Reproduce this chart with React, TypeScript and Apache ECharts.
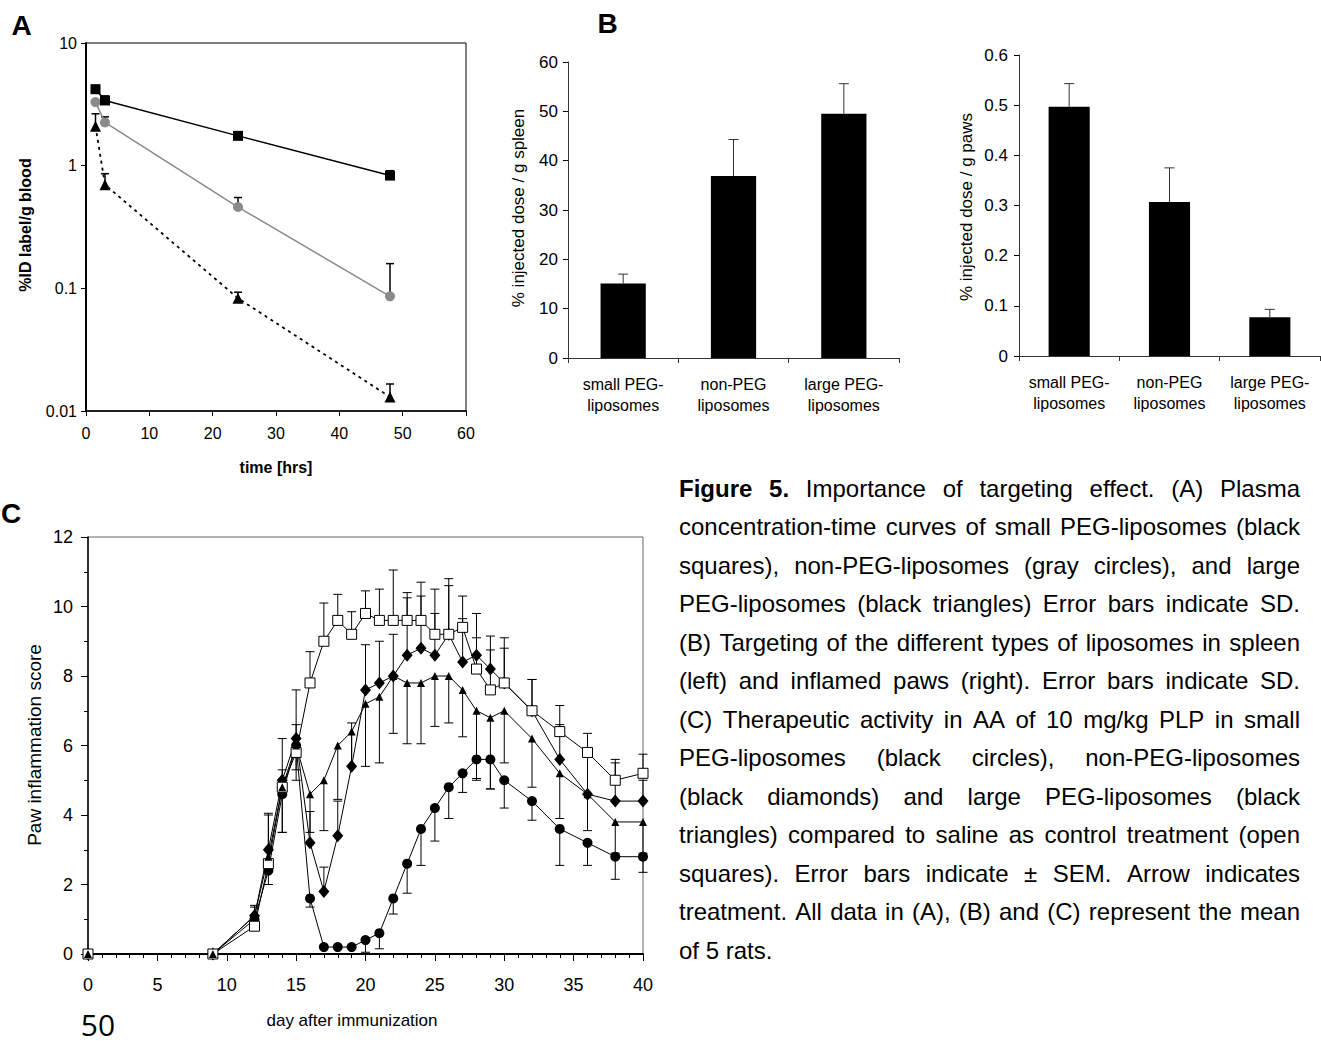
import React, { useEffect, useRef } from 'react';
import * as echarts from 'echarts';

const FONT = 'Liberation Sans';

// ---------- Panel A: plasma concentration (log scale) ----------
const A_TIMES = [1.5, 3, 24, 48];
const A_SMALL = [4.2, 3.4, 1.75, 0.83];
const A_SMALL_ERR = [0.3, 0.3, 0.11, 0.08];
const A_NONPEG = [3.3, 2.25, 0.46, 0.086];
const A_NONPEG_ERR = [0.1, 0.25, 0.09, 0.073];
const A_LARGE = [2.1, 0.7, 0.083, 0.013];
const A_LARGE_ERR = [0.55, 0.16, 0.01, 0.0036];

// ---------- Panel B: targeting ----------
const B_CATS = ['small PEG-\nliposomes', 'non-PEG\nliposomes', 'large PEG-\nliposomes'];
const B_SPLEEN = [15.1, 36.9, 49.5];
const B_SPLEEN_ERR = [1.9, 7.4, 6.1];
const B_PAWS = [0.497, 0.307, 0.077];
const B_PAWS_ERR = [0.046, 0.068, 0.016];

// ---------- Panel C: paw inflammation ----------
const C_DAYS = [0, 9, 12, 13, 14, 15, 16, 17, 18, 19, 20, 21, 22, 23, 24, 25, 26, 27, 28, 29, 30, 32, 34, 36, 38, 40];
const C_SALINE = [0, 0, 0.8, 2.6, 4.8, 5.8, 7.8, 9.0, 9.6, 9.2, 9.8, 9.6, 9.6, 9.6, 9.6, 9.2, 9.2, 9.4, 8.2, 7.6, 7.8, 7.0, 6.4, 5.8, 5.0, 5.2];
const C_SALINE_ERR = [0, 0, 0.55, 1.45, 1.4, 1.8, 0.9, 1.1, 0.75, 0.65, 0.65, 0.9, 1.45, 0.8, 1.1, 1.3, 1.6, 0.9, 0.9, 1.15, 1.3, 0.9, 0.75, 0.55, 0.6, 0.55];
const C_NONPEG = [0, 0, 1.1, 3.0, 5.0, 6.2, 3.2, 1.8, 3.4, 5.4, 7.6, 7.8, 8.0, 8.6, 8.8, 8.6, 9.2, 8.4, 8.6, 8.2, 7.8, 7.0, 5.6, 4.6, 4.4, 4.4];
const C_NONPEG_ERR = [0, 0, 0.3, 1.0, 0.3, 0.4, 0.9, 0.7, 1.0, 1.25, 1.3, 1.2, 1.2, 1.65, 1.5, 1.2, 1.4, 1.25, 1.2, 0.95, 1.0, 0.9, 1.0, 1.2, 1.1, 0.6];
const C_LARGE = [0, 0, 1.1, 2.8, 4.8, 6.0, 4.6, 5.0, 6.0, 6.4, 7.2, 7.4, 8.0, 7.8, 7.8, 8.0, 8.0, 7.6, 7.0, 6.8, 7.0, 6.2, 5.2, 4.6, 3.8, 3.8];
const C_LARGE_ERR = [0, 0, 0.2, 0.3, 1.3, 1.0, 1.1, 1.45, 1.55, 1.0, 1.8, 1.9, 1.65, 1.75, 1.75, 1.45, 1.35, 1.35, 2.0, 2.05, 1.5, 1.4, 1.3, 1.05, 0.9, 0.9];
const C_SMALL = [0, 0, 1.0, 2.4, 4.6, 6.0, 1.6, 0.2, 0.2, 0.2, 0.4, 0.6, 1.6, 2.6, 3.6, 4.2, 4.8, 5.2, 5.6, 5.6, 5.0, 4.4, 3.6, 3.2, 2.8, 2.8];
const C_SMALL_ERR = [0, 0, 0.2, 0.4, 1.1, 0.7, 0.25, 0, 0, 0, 0.35, 0.45, 0.45, 0.85, 1.05, 0.95, 0.9, 0.55, 0.55, 0.85, 0.8, 0.55, 1.05, 0.65, 0.65, 0.45];

const CAPTION_LINES = [
  'Figure 5. Importance of targeting effect. (A) Plasma',
  'concentration-time curves of small PEG-liposomes (black',
  'squares), non-PEG-liposomes (gray circles), and large',
  'PEG-liposomes (black triangles) Error bars indicate SD.',
  '(B) Targeting of the different types of liposomes in spleen',
  '(left) and inflamed paws (right). Error bars indicate SD.',
  '(C) Therapeutic activity in AA of 10 mg/kg PLP in small',
  'PEG-liposomes (black circles), non-PEG-liposomes',
  '(black diamonds) and large PEG-liposomes (black',
  'triangles) compared to saline as control treatment (open',
  'squares). Error bars indicate \u00b1 SEM. Arrow indicates',
  'treatment. All data in (A), (B) and (C) represent the mean',
  'of 5 rats.',
];

function measure(ctx: CanvasRenderingContext2D, text: string, font: string) {
  ctx.font = font;
  return ctx.measureText(text).width;
}

function buildCaption() {
  const ctx = document.createElement('canvas').getContext('2d') as CanvasRenderingContext2D;
  const left = 679, right = 1300, top = 488, lh = 38.5, size = 24;
  const els: any[] = [];
  CAPTION_LINES.forEach((line, i) => {
    const words = line.split(' ');
    const boldCount = i === 0 ? 2 : 0;
    const fonts = words.map((_, j) => `${j < boldCount ? 'bold ' : ''}${size}px "${FONT}"`);
    const widths = words.map((w, j) => measure(ctx, w, fonts[j]));
    const total = widths.reduce((a, b) => a + b, 0);
    const last = i === CAPTION_LINES.length - 1;
    const gap = last || words.length < 2 ? measure(ctx, ' ', fonts[0]) : (right - left - total) / (words.length - 1);
    let x = left;
    words.forEach((w, j) => {
      els.push({
        type: 'text', x, y: top + lh * i, silent: true,
        style: {
          text: w, fontSize: size, fontFamily: FONT, fontWeight: j < boldCount ? 'bold' : 'normal',
          fill: '#000', align: 'left', verticalAlign: 'middle',
        },
      });
      x += widths[j] + gap;
    });
  });
  return els;
}

const errRender = (dir: number, cap: number, color: string, lw: number) => (params: any, api: any) => {
  const x = api.value(0), y = api.value(1), e = api.value(2);
  if (!e) return null;
  const a = api.coord([x, y]);
  const b = api.coord([x, y + dir * e]);
  return {
    type: 'group',
    children: [
      { type: 'line', shape: { x1: a[0], y1: a[1], x2: b[0], y2: b[1] }, style: { stroke: color, lineWidth: lw } },
      { type: 'line', shape: { x1: b[0] - cap, y1: b[1], x2: b[0] + cap, y2: b[1] }, style: { stroke: color, lineWidth: lw } },
    ],
  };
};

function errSeries(xIdx: number, yIdx: number, xs: any[], ys: number[], es: number[], dir: number, cap: number, color: string, lw: number) {
  return {
    type: 'custom', xAxisIndex: xIdx, yAxisIndex: yIdx, z: 1, silent: true,
    renderItem: errRender(dir, cap, color, lw),
    data: xs.map((x, i) => [x, ys[i], es[i]]),
  };
}

function txt(text: string, x: number, y: number, size: number, opts: any = {}) {
  return {
    type: 'text', x, y, rotation: opts.rotation || 0, silent: true,
    style: {
      text, fontSize: size, fontFamily: opts.family || FONT, fontWeight: opts.bold ? 'bold' : 'normal',
      fill: '#000', align: 'center', verticalAlign: 'middle',
    },
  };
}

export default function App() {
  const ref = useRef<HTMLDivElement>(null);
  useEffect(() => {
    if (!ref.current) return;
    const chart = echarts.init(ref.current, undefined, { renderer: 'svg' });
    const black = '#000';
    const valAxisCommon = {
      splitLine: { show: false },
      axisLine: { show: true, lineStyle: { color: black, width: 1 } },
      axisTick: { show: true, length: 5, lineStyle: { color: black } },
    };
    const option: any = {
      animation: false,
      textStyle: { fontFamily: FONT, color: black },
      grid: [
        { left: 86, top: 43, width: 380, height: 368, show: true, borderColor: '#000', borderWidth: 1 },
        { left: 568, top: 62, width: 331, height: 296 },
        { left: 1019, top: 55, width: 301, height: 301 },
        { left: 88, top: 537, width: 555, height: 417, show: true, borderColor: '#666', borderWidth: 1 },
      ],
      xAxis: [
        {
          gridIndex: 0, type: 'value', min: 0, max: 60, interval: 10, ...valAxisCommon,
          axisLine: { show: true, lineStyle: { color: black, width: 1.5 } },
          axisLabel: { fontSize: 16, margin: 14, color: black },
        },
        {
          gridIndex: 1, type: 'category', data: B_CATS,
          axisLine: { show: true, lineStyle: { color: '#333', width: 1 } },
          axisTick: { show: true, length: 5, lineStyle: { color: '#333' } },
          axisLabel: { fontSize: 16, lineHeight: 21, margin: 16, color: black, interval: 0 },
        },
        {
          gridIndex: 2, type: 'category', data: B_CATS,
          axisLine: { show: true, lineStyle: { color: '#333', width: 1 } },
          axisTick: { show: true, length: 5, lineStyle: { color: '#333' } },
          axisLabel: { fontSize: 16, lineHeight: 21, margin: 16, color: black, interval: 0 },
        },
        {
          gridIndex: 3, type: 'value', min: 0, max: 40, interval: 5, ...valAxisCommon,
          axisLine: { show: true, lineStyle: { color: black, width: 2 } },
          axisTick: { show: true, length: 7, lineStyle: { color: black } },
          minorTick: { show: true, splitNumber: 5, length: 4, lineStyle: { color: black } },
          axisLabel: { fontSize: 18, margin: 22, color: black },
        },
      ],
      yAxis: [
        {
          gridIndex: 0, type: 'log', logBase: 10, min: 0.01, max: 10, ...valAxisCommon,
          axisLine: { show: true, lineStyle: { color: black, width: 2 } },
          axisLabel: { fontSize: 16, margin: 9, color: black, formatter: (v: number) => String(parseFloat(Number(v).toPrecision(3))) },
        },
        {
          gridIndex: 1, type: 'value', min: 0, max: 60, interval: 10, ...valAxisCommon,
          axisLine: { show: true, lineStyle: { color: '#333', width: 1 } },
          axisLabel: { fontSize: 17, margin: 10, color: black },
        },
        {
          gridIndex: 2, type: 'value', min: 0, max: 0.6, interval: 0.1, ...valAxisCommon,
          axisLine: { show: true, lineStyle: { color: '#333', width: 1 } },
          axisLabel: { fontSize: 17, margin: 11, color: black },
        },
        {
          gridIndex: 3, type: 'value', min: 0, max: 12, interval: 2, ...valAxisCommon,
          axisLine: { show: true, lineStyle: { color: black, width: 1.5 } },
          axisTick: { show: true, length: 7, lineStyle: { color: black } },
          minorTick: { show: true, splitNumber: 2, length: 4, lineStyle: { color: black } },
          axisLabel: { fontSize: 18, margin: 15, color: black },
        },
      ],
      series: [
        // Panel A
        errSeries(0, 0, A_TIMES, A_SMALL, A_SMALL_ERR, 1, 4, black, 1.5),
        errSeries(0, 0, A_TIMES, A_NONPEG, A_NONPEG_ERR, 1, 4, black, 1.5),
        errSeries(0, 0, A_TIMES, A_LARGE, A_LARGE_ERR, 1, 4, black, 1.5),
        {
          type: 'line', xAxisIndex: 0, yAxisIndex: 0, z: 3,
          data: A_TIMES.map((t, i) => [t, A_LARGE[i]]),
          symbol: 'triangle', symbolSize: 11,
          lineStyle: { color: black, width: 1.8, type: [3, 4] }, itemStyle: { color: black },
        },
        {
          type: 'line', xAxisIndex: 0, yAxisIndex: 0, z: 3,
          data: A_TIMES.map((t, i) => [t, A_NONPEG[i]]),
          symbol: 'circle', symbolSize: 10,
          lineStyle: { color: '#8a8a8a', width: 1.5 }, itemStyle: { color: '#8a8a8a' },
        },
        {
          type: 'line', xAxisIndex: 0, yAxisIndex: 0, z: 3,
          data: A_TIMES.map((t, i) => [t, A_SMALL[i]]),
          symbol: 'rect', symbolSize: 10,
          lineStyle: { color: black, width: 1.5 }, itemStyle: { color: black },
        },
        // Panel B
        {
          type: 'bar', xAxisIndex: 1, yAxisIndex: 1, data: B_SPLEEN, barWidth: '41%',
          itemStyle: { color: black },
        },
        {
          type: 'bar', xAxisIndex: 2, yAxisIndex: 2, data: B_PAWS, barWidth: '41%',
          itemStyle: { color: black },
        },
        { ...errSeries(1, 1, [0, 1, 2], B_SPLEEN, B_SPLEEN_ERR, 1, 5, '#333', 1), z: 3 },
        { ...errSeries(2, 2, [0, 1, 2], B_PAWS, B_PAWS_ERR, 1, 5, '#333', 1), z: 3 },
        // Panel C
        errSeries(3, 3, C_DAYS, C_SMALL, C_SMALL_ERR, -1, 4.5, black, 1),
        errSeries(3, 3, C_DAYS, C_NONPEG, C_NONPEG_ERR, 1, 4.5, black, 1),
        errSeries(3, 3, C_DAYS, C_SALINE, C_SALINE_ERR, 1, 4.5, black, 1),
        errSeries(3, 3, C_DAYS, C_LARGE, C_LARGE_ERR, -1, 4.5, black, 1),
        {
          type: 'line', xAxisIndex: 3, yAxisIndex: 3, z: 3,
          data: C_DAYS.map((d, i) => [d, C_SMALL[i]]),
          symbol: 'circle', symbolSize: 10,
          lineStyle: { color: black, width: 1 }, itemStyle: { color: black },
        },
        {
          type: 'line', xAxisIndex: 3, yAxisIndex: 3, z: 3,
          data: C_DAYS.map((d, i) => [d, C_NONPEG[i]]),
          symbol: 'diamond', symbolSize: [11, 13],
          lineStyle: { color: black, width: 1 }, itemStyle: { color: black },
        },
        {
          type: 'line', xAxisIndex: 3, yAxisIndex: 3, z: 3,
          data: C_DAYS.map((d, i) => [d, C_SALINE[i]]),
          symbol: 'rect', symbolSize: 10,
          lineStyle: { color: black, width: 1 },
          itemStyle: { color: '#fff', borderColor: black, borderWidth: 1 },
        },
        {
          type: 'line', xAxisIndex: 3, yAxisIndex: 3, z: 3,
          data: C_DAYS.map((d, i) => [d, C_LARGE[i]]),
          symbol: 'triangle', symbolSize: 8,
          lineStyle: { color: black, width: 1 }, itemStyle: { color: black },
        },
      ],
      graphic: {
        elements: [
          txt('A', 21.5, 25, 28, { bold: true }),
          txt('B', 607.5, 23.5, 28, { bold: true }),
          txt('C', 11, 513, 28, { bold: true }),
          txt('%ID label/g blood', 25, 225, 16, { bold: true, rotation: Math.PI / 2 }),
          txt('time [hrs]', 276, 467, 16, { bold: true }),
          txt('% injected dose / g spleen', 518, 208, 17, { rotation: Math.PI / 2 }),
          txt('% injected dose / g paws', 966.5, 207, 17, { rotation: Math.PI / 2 }),
          txt('Paw inflammation score', 34, 745, 19, { rotation: Math.PI / 2 }),
          txt('day after immunization', 352, 1020, 17),
          txt('50', 98, 1024, 30, { family: 'Open Sans' }),
          ...buildCaption(),
        ],
      },
    };
    chart.setOption(option);
    return () => chart.dispose();
  }, []);
  return (
    <div
      ref={ref}
      style={{ position: 'absolute', left: 0, top: 0, width: 1321, height: 1044, background: '#fff' }}
    />
  );
}
